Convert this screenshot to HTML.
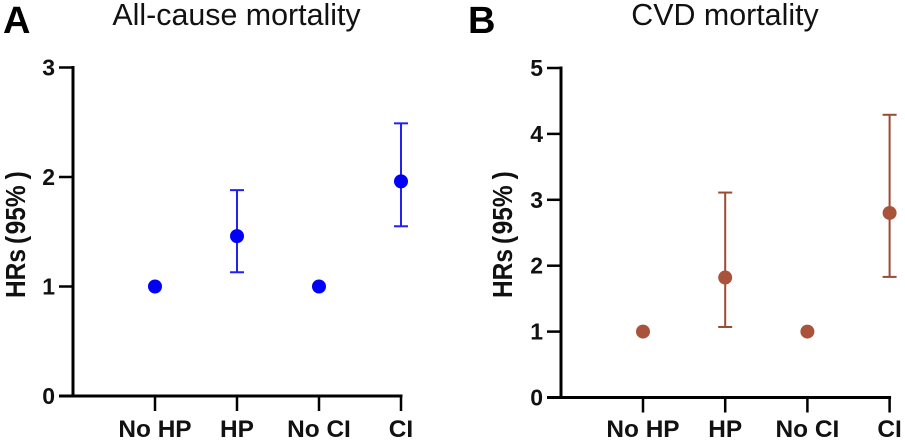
<!DOCTYPE html>
<html lang="en">
<head>
<meta charset="utf-8">
<title>Hazard ratios for mortality</title>
<style>
html,body{margin:0;padding:0;background:#fff;}
svg{display:block;font-family:"Liberation Sans","Noto Sans CJK SC",sans-serif;}
</style>
</head>
<body>
<svg id="chart" width="905" height="443" viewBox="0 0 905 443" xmlns="http://www.w3.org/2000/svg"></svg>
<script>
const categories = ['No HP', 'HP', 'No CI', 'CI'];
const allCauseTicks = [0, 1, 2, 3];
const allCauseValues = [1, 1.46, 1, 1.96];
const allCauseLower = [null, 1.13, null, 1.55];
const allCauseUpper = [null, 1.88, null, 2.49];
const cvdTicks = [0, 1, 2, 3, 4, 5];
const cvdValues = [1, 1.82, 1, 2.80];
const cvdLower = [null, 1.07, null, 1.83];
const cvdUpper = [null, 3.11, null, 4.29];

const NS = 'http://www.w3.org/2000/svg';
const svg = document.getElementById('chart');

function make(parent, tag, attrs, text) {
  const el = document.createElementNS(NS, tag);
  for (const k in attrs) el.setAttribute(k, attrs[k]);
  if (text !== undefined) el.textContent = text;
  parent.appendChild(el);
  return el;
}

function drawPanel(cfg) {
  const g = make(svg, 'g', {});
  
  

  const yMax = cfg.ticks[cfg.ticks.length - 1];
  const y = v => cfg.y0 - (v / yMax) * (cfg.y0 - cfg.yTop);
  const x = i => cfg.x1st + i * cfg.xStep;

  const letter = make(g, 'text', {x: cfg.letterX, y: 33, 'font-size': 38, 'font-weight': 700, fill: '#000'}, cfg.letter);
  
  

  const title = make(g, 'text', {x: cfg.titleX, y: 25, 'font-size': 30.4, 'text-anchor': 'middle', fill: '#111'}, cfg.title);
  
  

  const yTitle = make(g, 'text', {
    transform: 'translate(' + cfg.yTitleX + ',298) rotate(-90) scale(1,1.15)',
    'font-size': 24.5, 'font-weight': 700, 'text-anchor': 'start', fill: '#111'
  });
  
  
  make(yTitle, 'tspan', {}, 'HRs');
  make(yTitle, 'tspan', {dx: 5}, '(');
  make(yTitle, 'tspan', {dx: 1.5}, '95%');
  make(yTitle, 'tspan', {dx: 6}, ')');

  const yAxis = make(g, 'line', {x1: cfg.xAxis, x2: cfg.xAxis, y1: y(yMax) - 1.5, y2: y(0) + 1.5, stroke: '#000', 'stroke-width': 3});
  
  

  const xAxis = make(g, 'line', {x1: cfg.xAxis - 14, x2: x(categories.length - 1) + 1.5, y1: y(0), y2: y(0), stroke: '#000', 'stroke-width': 3});
  
  

  cfg.ticks.forEach(t => {
    const tick = make(g, 'line', {x1: cfg.xAxis - 14, x2: cfg.xAxis, y1: y(t), y2: y(t), stroke: '#000', 'stroke-width': 2.5});
    
    
    const label = make(g, 'text', {x: cfg.xAxis - 18, y: y(t) + 8, 'font-size': 23, 'font-weight': 700, 'text-anchor': 'end', fill: '#111'}, String(t));
    
    
  });

  categories.forEach((c, i) => {
    const tick = make(g, 'line', {x1: x(i), x2: x(i), y1: y(0), y2: y(0) + 15, stroke: '#000', 'stroke-width': 2.5});
    
    
    const label = make(g, 'text', {x: x(i), y: 437, 'font-size': 24.4, 'font-weight': 700, 'text-anchor': 'middle', fill: '#111'}, c);
    
    
  });

  categories.forEach((c, i) => {
    if (cfg.lower[i] !== null && cfg.upper[i] !== null) {
      const stem = make(g, 'line', {x1: x(i), x2: x(i), y1: y(cfg.upper[i]), y2: y(cfg.lower[i]), stroke: cfg.lineColor, 'stroke-width': 2});
      
      
      [cfg.upper[i], cfg.lower[i]].forEach(v => {
        const cap = make(g, 'line', {x1: x(i) - 7, x2: x(i) + 7, y1: y(v), y2: y(v), stroke: cfg.lineColor, 'stroke-width': 2});
        
        
      });
    }
    const dot = make(g, 'circle', {cx: x(i), cy: y(cfg.values[i]), r: 7, fill: cfg.color});
    
    
  });
}

drawPanel({
  name: 'all-cause', letter: 'A', letterX: 3, title: 'All-cause mortality', titleX: 236.5,
  yTitleX: 25, xAxis: 73, x1st: 155, xStep: 82, y0: 396, yTop: 67.5,
  ticks: allCauseTicks, values: allCauseValues, lower: allCauseLower, upper: allCauseUpper,
  color: '#0000fa', lineColor: '#2222f0'
});
drawPanel({
  name: 'cvd', letter: 'B', letterX: 468, title: 'CVD mortality', titleX: 725,
  yTitleX: 512, xAxis: 561, x1st: 643, xStep: 82.2, y0: 397.5, yTop: 68,
  ticks: cvdTicks, values: cvdValues, lower: cvdLower, upper: cvdUpper,
  color: '#a9533a', lineColor: '#9c4a34'
});
</script>
</body>
</html>
